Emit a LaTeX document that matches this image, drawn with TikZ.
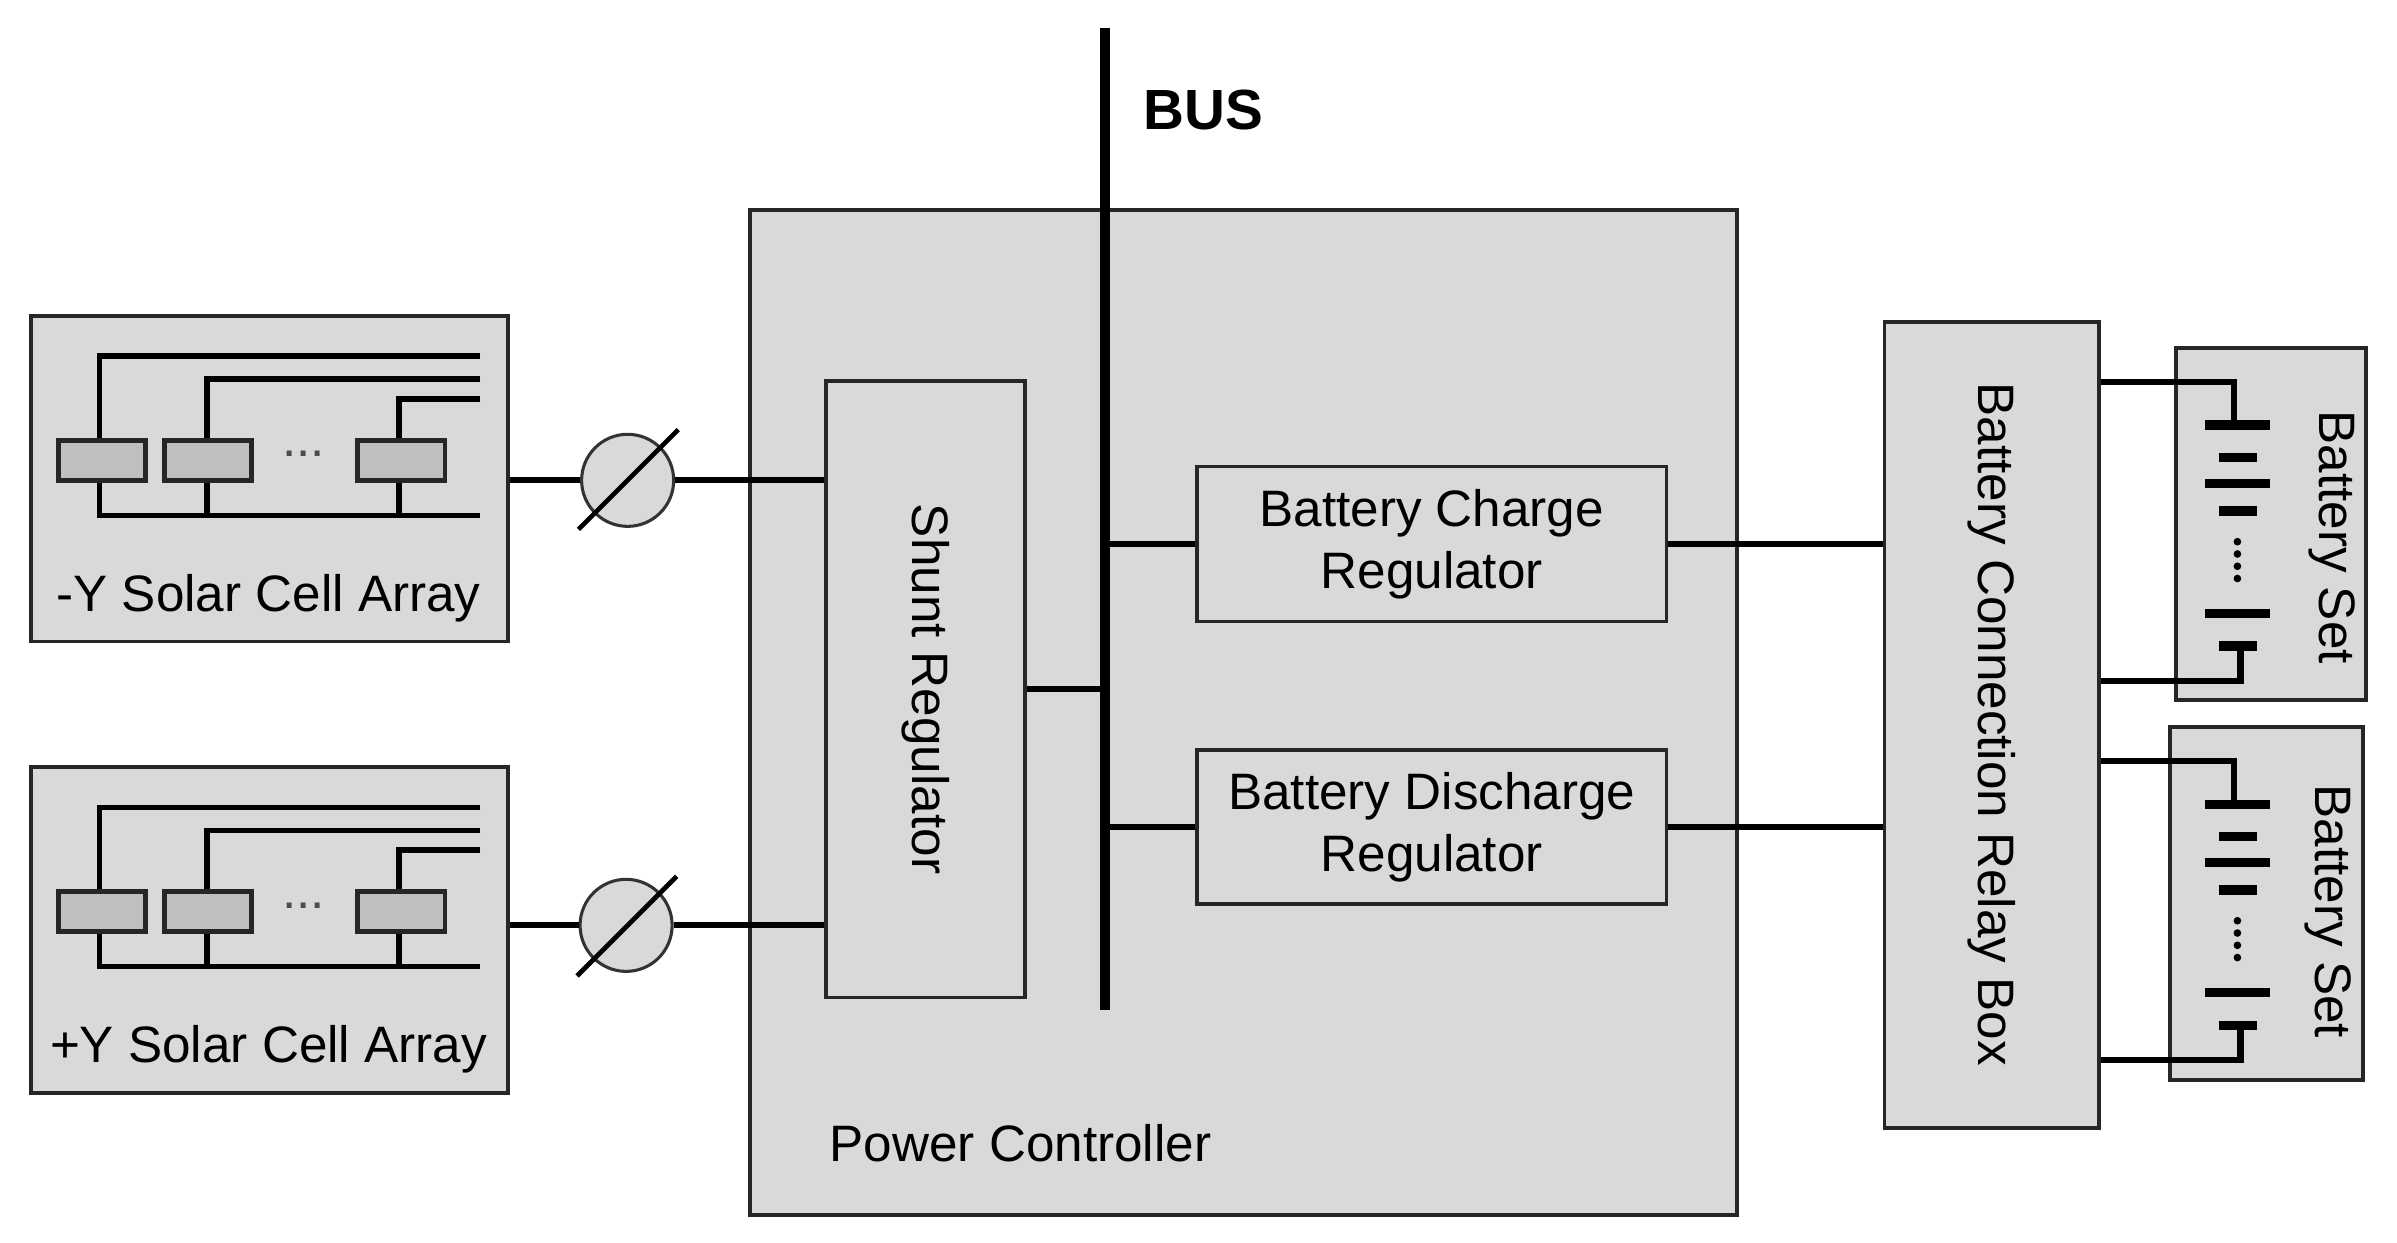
\documentclass[tikz,border=0pt]{standalone}
\usepackage{fontspec}
\setmainfont{Liberation Sans}
\begin{document}
\begin{tikzpicture}[x=0.1mm,y=-0.1mm,
  box/.style={draw=black!85,line width=0.25mm,fill=black!15,inner sep=0pt},
  cell/.style={draw=black!85,line width=0.3mm,fill=black!25,minimum width=5.7mm,minimum height=2.6mm,inner sep=0pt},
  wire/.style={line width=0.35mm},
  conn/.style={line width=0.4mm},
  plate/.style={line width=0.6mm},
  lbl/.style={font=\fontsize{9.5}{11.5}\selectfont,align=center},
  ph/.style={circle,draw=black!80,fill=black!15,line width=0.2mm,minimum size=6mm,inner sep=0pt}]
\useasboundingbox (0,0) rectangle (1562,810);
% Power controller
\node[box,minimum width=64.3mm,minimum height=65.5mm] (pc) at (810.5,464.5) {};
\node[lbl,anchor=west,inner sep=0pt] (pclbl) at (540,745) {Power Controller};
% Solar arrays
\foreach \n/\yo/\t in {sa1/0/{-Y Solar Cell Array},sa2/294/{+Y Solar Cell Array}}{
  \node[box,minimum width=31.1mm,minimum height=21.2mm] (\n) at (175.5,312+\yo) {};
  \node[lbl] (\n lbl) at (175,390+\yo) {\t};
  \draw[wire] (313,232+\yo) -- (65,232+\yo) -- (65,336+\yo) -- (313,336+\yo);
  \draw[wire] (313,247+\yo) -- (135,247+\yo) -- (135,336+\yo);
  \draw[wire] (313,260+\yo) -- (260,260+\yo) -- (260,336+\yo);
  \node[cell] (\n c1) at (66.5,300+\yo) {};
  \node[cell] (\n c2) at (135.5,300+\yo) {};
  \node[cell] (\n c3) at (261.5,300+\yo) {};
  \node[lbl,text=black!70] (\n dots) at (198,296+\yo) {...};
}
% shunt
\node[box,minimum width=13mm,minimum height=40.2mm] (shunt) at (603,449) {};
\node[lbl,rotate=-90] (shuntlbl) at (603,449) {Shunt Regulator};
% phase symbols
\node[ph] (ph1) at (409,313) {};
\node[ph] (ph2) at (408,603) {};
\draw[conn] (sa1.east |- ph1) -- (ph1.west);
\draw[conn] (ph1.east) -- (shunt.west |- ph1);
\draw[conn] (sa2.east |- ph2) -- (ph2.west);
\draw[conn] (ph2.east) -- (shunt.west |- ph2);
\draw[line width=0.3mm] (377,345) -- (442,280);
\draw[line width=0.3mm] (376,636) -- (441,571);
% bus
\coordinate (bustop) at (720,18);
\coordinate (busbot) at (720,658);
\draw[line width=0.65mm] (bustop) -- (busbot);
\node[font=\fontsize{10.5}{12}\selectfont\bfseries] (buslbl) at (784,72) {BUS};
% regulators
\node[box,lbl,minimum width=30.6mm,minimum height=10.1mm] (bcr) at (933,354.5) {Battery Charge\\Regulator};
\node[box,lbl,minimum width=30.6mm,minimum height=10mm] (bdr) at (933,539) {Battery Discharge\\Regulator};
\draw[conn] (shunt.east) -- (shunt.east -| bustop);
\draw[conn] (bcr.west -| bustop) -- (bcr.west);
\draw[conn] (bdr.west -| bustop) -- (bdr.west);
% relay
\node[box,minimum width=14mm,minimum height=52.5mm] (relay) at (1298,472.5) {};
\node[lbl,rotate=-90] (relaylbl) at (1298,472) {Battery Connection Relay Box};
\draw[conn] (bcr.east) -- (bcr.east -| relay.west);
\draw[conn] (bdr.east) -- (bdr.east -| relay.west);
% battery sets
\node[box,minimum width=12.4mm,minimum height=22.9mm] (bs1) at (1480,341.5) {};
\node[box,minimum width=12.6mm,minimum height=23mm] (bs2) at (1477,589) {};
\node[lbl,rotate=-90] (bs1lbl) at (1520,350) {Battery Set};
\node[lbl,rotate=-90] (bs2lbl) at (1517,594) {Battery Set};
\foreach \n/\yo in {b1/0,b2/247}{
  \coordinate (\n t) at (1456,249+\yo);
  \coordinate (\n b) at (1460,444+\yo);
  \draw[conn] (relay.east |- \n t) -- (\n t) -- (1456,277+\yo);
  \draw[conn] (relay.east |- \n b) -- (\n b) -- (1460,421+\yo);
  \draw[plate] (1437,277+\yo) -- (1479,277+\yo);
  \draw[plate] (1446,298+\yo) -- (1471,298+\yo);
  \draw[plate] (1437,315+\yo) -- (1479,315+\yo);
  \draw[plate] (1446,333+\yo) -- (1471,333+\yo);
  \foreach \d in {353,361,369,377}{\fill (1458,\d+\yo) circle (0.25mm);}
  \draw[plate] (1437,400+\yo) -- (1479,400+\yo);
  \draw[plate] (1446,421+\yo) -- (1471,421+\yo);
}
\end{tikzpicture}
\end{document}
